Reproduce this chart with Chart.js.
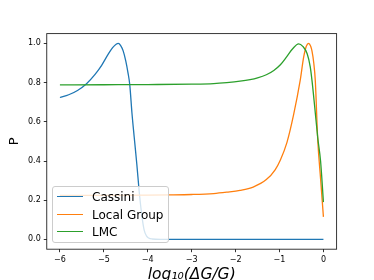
<!DOCTYPE html>
<html>
<head>
<meta charset="utf-8">
<script src="https://cdn.jsdelivr.net/npm/chart.js@4/dist/chart.umd.min.js"></script>
<style>
  html, body { margin: 0; padding: 0; background: #fff; }
  #wrap { position: relative; width: 374px; height: 280px; overflow: hidden; }
  #legend { position: absolute; left: 52px; top: 186px; width: 117px; height: 57px;
            background: rgba(255,255,255,0.8); border: 1px solid #cccccc; border-radius: 3px;
            box-sizing: border-box; font-family: "DejaVu Sans", sans-serif; font-size: 12px; color: #000; }
  .row { position: absolute; left: 0; height: 14px; line-height: 14px; white-space: nowrap; }
  .swatch { position: absolute; left: 4px; top: 6px; width: 26px; height: 0; border-top: 1.4px solid; }
  .lbl { position: absolute; left: 39px; top: 0; }
</style>
</head>
<body>
<div id="wrap">
  <canvas id="c" width="374" height="280"></canvas>
  <div id="legend"></div>
</div>
<script>
// ---- data ----
const seriesNames = ["Cassini", "Local Group", "LMC"];
const seriesColors = ["#1f77b4", "#ff7f0e", "#2ca02c"];

const cassiniX = [-6, -5.8, -5.6, -5.4, -5.2, -5.05, -4.9, -4.8, -4.72, -4.67, -4.62, -4.56, -4.5, -4.45, -4.41, -4.36, -4.31, -4.25, -4.19, -4.13, -4.08, -4.03, -3.98, -3.9, -3.7, -3, -2, -1, 0];
const cassiniP = [0.724, 0.738, 0.760, 0.793, 0.842, 0.888, 0.945, 0.978, 0.996, 1.0, 0.99, 0.962, 0.91, 0.85, 0.79, 0.645, 0.525, 0.386, 0.233, 0.114, 0.046, 0.018, 0.007, 0.002, 0, 0, 0, 0, 0];

const localGroupX = [-6, -5, -4, -3.5, -3, -2.5, -2.2, -1.9, -1.6, -1.3, -1.1, -0.98, -0.83, -0.68, -0.53, -0.45, -0.39, -0.337, -0.29, -0.26, -0.22, -0.185, -0.13, -0.065, 0];
const localGroupP = [0.225, 0.225, 0.226, 0.227, 0.229, 0.234, 0.241, 0.25, 0.267, 0.305, 0.355, 0.405, 0.495, 0.635, 0.81, 0.93, 0.985, 1.0, 0.985, 0.96, 0.90, 0.81, 0.51, 0.31, 0.115];

const lmcX = [-6, -5, -4, -3, -2.5, -2.2, -1.9, -1.67, -1.5, -1.3, -1.13, -0.98, -0.83, -0.7, -0.565, -0.47, -0.37, -0.3, -0.26, -0.2, -0.13, -0.065, 0];
const lmcP = [0.788, 0.789, 0.79, 0.792, 0.795, 0.80, 0.807, 0.815, 0.824, 0.84, 0.862, 0.891, 0.934, 0.973, 0.998, 0.985, 0.947, 0.88, 0.81, 0.68, 0.52, 0.40, 0.19];

const xTicks = [-6, -5, -4, -3, -2, -1, 0];
const yTicks = [0.0, 0.2, 0.4, 0.6, 0.8, 1.0];
const xLabel = "log\u2081\u2080(\u0394G/G)";
const yLabel = "P";

// ---- build ----
const pts = (xs, ys) => xs.map((x, i) => ({ x: x, y: ys[i] }));
const allX = [cassiniX, localGroupX, lmcX];
const allP = [cassiniP, localGroupP, lmcP];

const datasets = seriesNames.map((name, i) => ({
  label: name,
  data: pts(allX[i], allP[i]),
  borderColor: seriesColors[i],
  backgroundColor: seriesColors[i],
  borderWidth: 1.3,
  pointRadius: 0,
  fill: false,
  cubicInterpolationMode: 'monotone',
  order: 3 - i
}));

const fmt = v => (v < 0 ? "\u2212" + Math.abs(v) : String(v));

const frame = {
  id: 'frame',
  afterDatasetsDraw(chart) {
    const a = chart.chartArea, ctx = chart.ctx;
    ctx.save();
    ctx.strokeStyle = '#222';
    ctx.lineWidth = 0.9;
    ctx.strokeRect(a.left, a.top, a.right - a.left, a.bottom - a.top);
    ctx.restore();
  }
};

const tickFont = { family: "DejaVu Sans", size: 8 };

new Chart(document.getElementById('c'), {
  type: 'line',
  data: { datasets: datasets },
  options: {
    responsive: false,
    animation: false,
    devicePixelRatio: 1,
    layout: { padding: { left: 0, right: 37.4, top: 33.6, bottom: 0 } },
    plugins: { legend: { display: false }, tooltip: { enabled: false } },
    scales: {
      x: {
        type: 'linear',
        min: -6.3, max: 0.3,
        afterBuildTicks: s => { s.ticks = xTicks.map(v => ({ value: v })); },
        afterFit: s => { s.height = 30.8; },
        ticks: { font: tickFont, color: '#000', padding: 3, maxRotation: 0, callback: v => fmt(v) },
        grid: { drawOnChartArea: false, drawTicks: true, tickLength: 3, tickColor: '#000', tickWidth: 0.8 },
        border: { display: false },
        title: { display: true, text: xLabel, color: '#000', padding: 0,
                 font: { family: "DejaVu Sans", size: 15.5, style: 'italic', lineHeight: '10px' } }
      },
      y: {
        type: 'linear',
        min: -0.05, max: 1.05,
        afterBuildTicks: s => { s.ticks = yTicks.map(v => ({ value: v })); },
        afterFit: s => { s.width = 46.75; },
        ticks: { font: tickFont, color: '#000', padding: 3, callback: v => v.toFixed(1) },
        grid: { drawOnChartArea: false, drawTicks: true, tickLength: 3, tickColor: '#000', tickWidth: 0.8 },
        border: { display: false },
        title: { display: true, text: yLabel, color: '#000', padding: { top: 7, bottom: 0 },
                 font: { family: "DejaVu Sans", size: 13, lineHeight: '16px' } }
      }
    }
  },
  plugins: [frame]
});

// legend (HTML overlay, semi-transparent like the reference)
const leg = document.getElementById('legend');
const rowCenters = [9.5, 27.5, 45];
seriesNames.forEach((name, i) => {
  const r = document.createElement('div');
  r.className = 'row';
  r.style.top = (rowCenters[i] - 7) + 'px';
  const sw = document.createElement('div');
  sw.className = 'swatch';
  sw.style.borderTopColor = seriesColors[i];
  const t = document.createElement('span');
  t.className = 'lbl';
  t.textContent = name;
  r.appendChild(sw); r.appendChild(t);
  leg.appendChild(r);
});
</script>
</body>
</html>
